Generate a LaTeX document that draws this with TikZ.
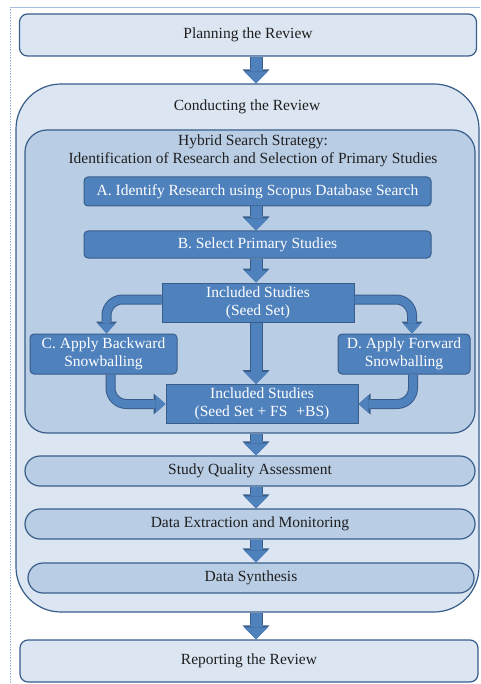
\documentclass[tikz,border=0pt]{standalone}
\usepackage{fontspec}
\setmainfont{Liberation Serif}
\usetikzlibrary{positioning,arrows.meta,calc}
\definecolor{ReviewLight}{RGB}{220,230,242}
\definecolor{ReviewEdge}{RGB}{56,93,138}
\definecolor{SearchMid}{RGB}{185,205,229}
\definecolor{StepBlue}{RGB}{79,129,189}
\definecolor{FrameLine}{RGB}{165,190,222}

\begin{document}
\begin{tikzpicture}[
    x=1pt, y=-1pt,
    font=\fontsize{15.5}{17.8}\selectfont,
    phasebox/.style={
        rounded corners=8pt,
        draw=ReviewEdge,
        line width=1.2pt,
        fill=ReviewLight,
        text=black!88,
        minimum width=457pt,
        minimum height=42pt
    },
    containerbox/.style={
        rounded corners=45pt,
        draw=ReviewEdge,
        line width=1.2pt,
        fill=ReviewLight,
        minimum width=463pt,
        minimum height=528pt
    },
    searchbox/.style={
        rounded corners=22pt,
        draw=ReviewEdge,
        line width=1.2pt,
        fill=SearchMid,
        minimum width=450pt,
        minimum height=303pt
    },
    pillbox/.style={
        rounded corners=15pt,
        draw=ReviewEdge,
        line width=1.2pt,
        fill=SearchMid,
        text=black!88,
        minimum width=450pt,
        minimum height=30pt
    },
    stepbox/.style={
        rounded corners=4pt,
        draw=ReviewEdge,
        line width=1pt,
        fill=StepBlue,
        text=white,
        align=center,
        inner sep=2pt
    },
    seedbox/.style={stepbox, rounded corners=0pt, minimum width=192pt, minimum height=39pt},
    titletext/.style={text=black!88, align=center, inner sep=1pt},
    flowarrow/.style={
        line width=11pt, draw=StepBlue,
        -{Triangle[length=12pt,width=24pt,line width=0pt]},
        preaction={draw=ReviewEdge, line width=13pt,
            -{Triangle[length=14pt,width=27pt,line width=0pt]}}
    },
    bendarrow/.style={
        line width=8pt, draw=StepBlue, rounded corners=16pt,
        -{Triangle[length=10pt,width=18pt,line width=0pt]},
        preaction={draw=ReviewEdge, line width=10pt,
            -{Triangle[length=12pt,width=21pt,line width=0pt]}}
    }
]
\useasboundingbox (0,0) rectangle (480,684);

% Thin page frame on the top and left edges.
\draw[FrameLine, line width=0.6pt] (10,7) -- (480,7);
\draw[FrameLine, line width=0.6pt, densely dotted] (10,7) -- (10,684);

% Column line for the straight block arrows.
\coordinate (spine) at (256,0);

% Planning phase.
\node[phasebox] (planning) at (248,35) {Planning the Review};

% Conducting phase: the large container with its own title.
\node[containerbox] (conducting) at (247.5,348) {};
\node[titletext] (conductingtitle) at (247,107) {Conducting the Review};

% Hybrid search strategy group inside the conducting phase.
\node[searchbox] (hybrid) at (250,281.5) {};
\node[titletext] (hybridtitle) at (253,151) {Hybrid Search Strategy:\\Identification of Research and Selection of Primary Studies};

% Search steps A and B.
\node[stepbox, minimum width=347pt, minimum height=29pt] (identify) at (257.5,191.5) {A. Identify Research using Scopus Database Search};
\node[stepbox, minimum width=347pt, minimum height=27pt] (select) at (257.5,244.5) {B. Select Primary Studies};

% Seed set and snowballing branches.
\node[seedbox] (seed) at (258,302.5) {Included Studies\\(Seed Set)};
\node[stepbox, minimum width=147pt, minimum height=40pt] (backward) at (103.5,354) {C. Apply Backward\\Snowballing};
\node[stepbox, minimum width=132pt, minimum height=40pt] (forward) at (404,354) {D. Apply Forward\\Snowballing};
\node[seedbox] (merged) at (262,404) {Included Studies\\(Seed Set + FS\,\, +BS)};

% Remaining conducting steps.
\node[pillbox] (quality) at (250,471) {Study Quality Assessment};
\node[pillbox] (extraction) at (250,524) {Data Extraction and Monitoring};
\node[pillbox, minimum width=446pt] (synthesis) at (251,578) {Data Synthesis};

% Reporting phase.
\node[phasebox, minimum width=458pt] (reporting) at (249,661) {Reporting the Review};

% Straight flow arrows down the main column.
\draw[flowarrow] (planning.south -| spine) -- (conducting.north -| spine);
\draw[flowarrow] (identify.south -| spine) -- (select.north -| spine);
\draw[flowarrow] (select.south -| spine) -- (seed.north -| spine);
\draw[flowarrow] (seed.south -| spine) -- (merged.north -| spine);
\draw[flowarrow] (hybrid.south -| spine) -- (quality.north -| spine);
\draw[flowarrow] (quality.south -| spine) -- (extraction.north -| spine);
\draw[flowarrow] (extraction.south -| spine) -- (synthesis.north -| spine);
\draw[flowarrow] (conducting.south -| spine) -- (reporting.north -| spine);

% Bent arrows through the snowballing branches.
\draw[bendarrow] ($(seed.west)+(0,-3)$) -| ($(backward.north)+(3,0)$);
\draw[bendarrow] ($(backward.south)+(7,0)$) |- (merged.west);
\draw[bendarrow] ($(seed.east)+(0,-3)$) -| ($(forward.north)+(8,0)$);
\draw[bendarrow] ($(forward.south)+(9,0)$) |- (merged.east);

\end{tikzpicture}
\end{document}
